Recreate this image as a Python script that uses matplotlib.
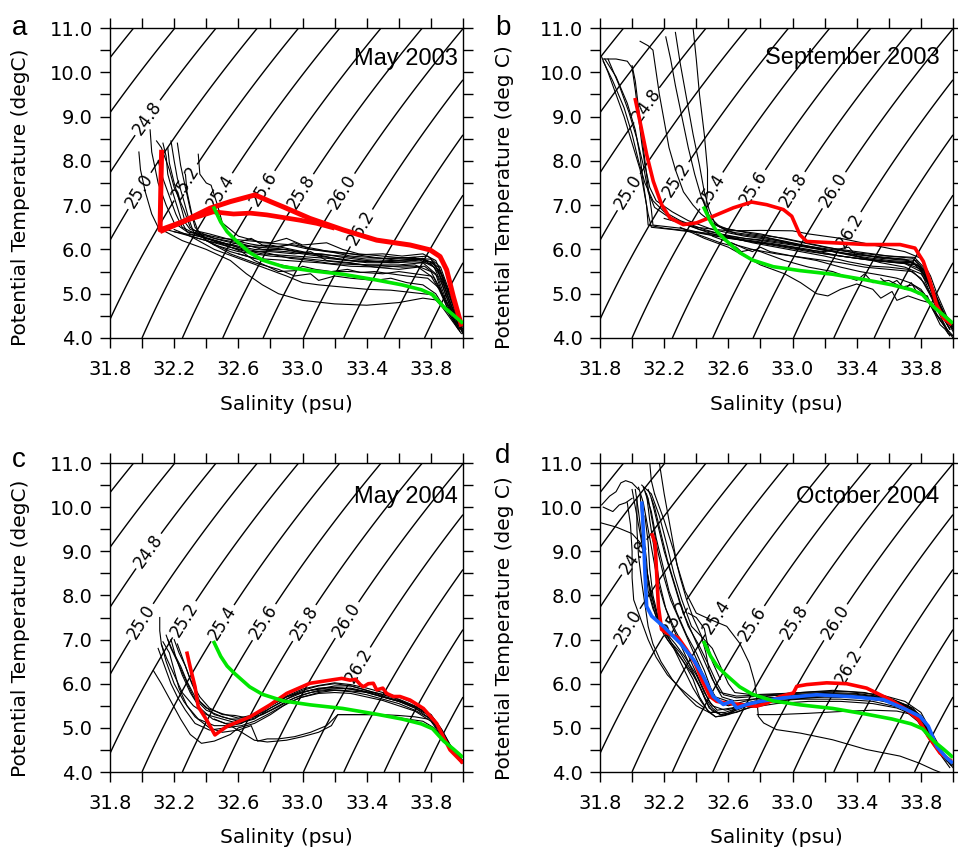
import numpy as np
import matplotlib
matplotlib.use("Agg")
import matplotlib.pyplot as plt
from matplotlib.ticker import FixedLocator, FormatStrFormatter

# ---------------- data (salinity, potential temperature) ----------------
green_ref = [(32.444, 6.97), (32.49, 6.62), (32.53, 6.40), (32.58, 6.22), (32.67, 5.93),
             (32.75, 5.76), (32.88, 5.61), (33.05, 5.52), (33.25, 5.44), (33.46, 5.31),
             (33.62, 5.20), (33.74, 5.09), (33.81, 4.98), (33.88, 4.70), (33.94, 4.52),
             (34.0, 4.33)]

may2003_red_upper = [(32.122, 8.25), (32.118, 7.6), (32.115, 7.0), (32.112, 6.44),
                     (32.25, 6.62), (32.423, 6.93), (32.55, 7.08), (32.704, 7.23),
                     (32.80, 7.08), (32.88, 6.96), (33.046, 6.70), (33.254, 6.44),
                     (33.462, 6.21), (33.67, 6.10), (33.794, 5.99), (33.857, 5.84),
                     (33.898, 5.54), (33.94, 4.93), (33.992, 4.26)]
may2003_red_lower = [(32.112, 6.40), (32.278, 6.66), (32.444, 6.85), (32.57, 6.80),
                     (32.673, 6.82), (32.777, 6.78), (32.88, 6.72), (32.984, 6.66),
                     (33.088, 6.59), (33.20, 6.48)]
may2003_ctd = [
    [(31.98, 8.2), (31.99, 7.8), (32.02, 7.3), (32.06, 6.8), (32.1, 6.5), (32.2, 6.4), (32.35, 6.3),
     (32.5, 6.15), (32.7, 6.0), (32.9, 5.95), (33.1, 5.85), (33.3, 5.75), (33.5, 5.72), (33.7, 5.75),
     (33.8, 5.72), (33.86, 5.5), (33.9, 5.1), (33.95, 4.6), (34.0, 4.15)],
    [(32.05, 8.7), (32.06, 8.2), (32.1, 7.5), (32.15, 7.0), (32.2, 6.6), (32.3, 6.35), (32.45, 6.2),
     (32.6, 6.05), (32.8, 6.1), (33.0, 5.95), (33.2, 5.8), (33.4, 5.7), (33.6, 5.7), (33.75, 5.8),
     (33.85, 5.6), (33.9, 5.0), (33.96, 4.4), (34.0, 4.1)],
    [(32.09, 8.45), (32.12, 8.3), (32.17, 7.8), (32.2, 7.4), (32.26, 6.9), (32.3, 6.5), (32.4, 6.25),
     (32.55, 6.05), (32.75, 5.9), (32.95, 5.85), (33.15, 5.8), (33.35, 5.72), (33.55, 5.75),
     (33.75, 5.78), (33.84, 5.55), (33.88, 5.2), (33.93, 4.7), (33.98, 4.25)],
    [(32.18, 8.45), (32.2, 8.0), (32.22, 7.6), (32.26, 7.1), (32.29, 6.7), (32.32, 6.4), (32.45, 6.1),
     (32.6, 5.95), (32.8, 5.85), (33.0, 5.8), (33.2, 5.72), (33.4, 5.65), (33.6, 5.65), (33.75, 5.7),
     (33.83, 5.45), (33.87, 5.0), (33.92, 4.5), (33.97, 4.2)],
    [(32.22, 8.4), (32.24, 7.9), (32.27, 7.4), (32.3, 6.9), (32.33, 6.5), (32.4, 6.2), (32.55, 5.95),
     (32.7, 5.8), (32.9, 5.75), (33.1, 5.7), (33.3, 5.62), (33.5, 5.6), (33.7, 5.65), (33.8, 5.5),
     (33.86, 5.1), (33.92, 4.6), (33.98, 4.15)],
    [(32.35, 8.15), (32.36, 7.7), (32.4, 7.5), (32.43, 7.45), (32.47, 7.0), (32.5, 6.6), (32.6, 6.3),
     (32.75, 6.15), (32.95, 6.1), (33.1, 6.0), (33.3, 5.85), (33.5, 5.8), (33.7, 5.82), (33.82, 5.6),
     (33.87, 5.2), (33.93, 4.6), (34.0, 4.2)],
    [(32.12, 6.45), (32.25, 6.2), (32.4, 6.0), (32.55, 5.75), (32.65, 5.45), (32.75, 5.2), (32.85, 5.0),
     (33.0, 4.85), (33.2, 4.77), (33.4, 4.74), (33.6, 4.8), (33.75, 4.9), (33.85, 4.85), (33.92, 4.55),
     (33.98, 4.2)],
    [(32.3, 6.3), (32.45, 6.0), (32.6, 5.8), (32.75, 5.6), (32.9, 5.4), (33.0, 5.25), (33.1, 5.2),
     (33.25, 5.15), (33.4, 5.1), (33.55, 5.08), (33.7, 5.02), (33.8, 4.98), (33.87, 4.7), (33.93, 4.4),
     (33.99, 4.1)],
    [(32.4, 6.2), (32.55, 5.9), (32.7, 5.7), (32.85, 5.55), (32.95, 5.4), (33.05, 5.45), (33.1, 5.3),
     (33.2, 5.4), (33.3, 5.35), (33.45, 5.3), (33.55, 5.35), (33.65, 5.25), (33.75, 5.2), (33.83, 5.0),
     (33.9, 4.6), (33.96, 4.3)],
    [(32.3, 6.4), (32.5, 6.25), (32.65, 6.2), (32.8, 6.15), (32.9, 6.25), (33.0, 6.1), (33.15, 6.15),
     (33.25, 6.0), (33.35, 5.9), (33.5, 5.85), (33.65, 5.8), (33.8, 5.78), (33.87, 5.4), (33.93, 4.8),
     (33.99, 4.3)],
    [(32.2, 6.4), (32.35, 6.25), (32.5, 6.1), (32.65, 5.95), (32.8, 5.95), (32.95, 5.9), (33.05, 5.95),
     (33.15, 5.75), (33.3, 5.7), (33.45, 5.6), (33.6, 5.55), (33.72, 5.6), (33.82, 5.35), (33.88, 4.9),
     (33.95, 4.5), (34.0, 4.3)],
    [(32.27, 7.7), (32.28, 7.3), (32.31, 6.8), (32.35, 6.4), (32.45, 6.25), (32.6, 6.15), (32.75, 6.0),
     (32.9, 6.0), (33.05, 5.9), (33.25, 5.85), (33.4, 5.78), (33.6, 5.8), (33.78, 5.85), (33.86, 5.6),
     (33.9, 5.2), (33.95, 4.7), (34.0, 4.25)],
    [(32.6, 5.9), (32.8, 5.7), (33.0, 5.55), (33.1, 5.5), (33.3, 5.5), (33.5, 5.45), (33.6, 5.5),
     (33.7, 5.45), (33.8, 5.4), (33.85, 5.1), (33.9, 4.7), (33.95, 4.45), (34.0, 4.1)],
    [(32.13, 8.4), (32.15, 8.1), (32.16, 7.7), (32.19, 7.3), (32.22, 6.95), (32.25, 6.6), (32.28, 6.4),
     (32.4, 6.3), (32.5, 6.2), (32.62, 6.1), (32.72, 6.05), (32.85, 6.02), (33.0, 5.92), (33.12, 5.9),
     (33.25, 5.82), (33.4, 5.75), (33.55, 5.7), (33.7, 5.72), (33.8, 5.68), (33.85, 5.45),
     (33.89, 5.0), (33.94, 4.55), (33.99, 4.2)],
    [(32.16, 8.3), (32.17, 7.95), (32.2, 7.5), (32.24, 7.0), (32.27, 6.6), (32.3, 6.45), (32.42, 6.35),
     (32.55, 6.22), (32.68, 6.12), (32.8, 6.05), (32.92, 6.1), (33.02, 6.02), (33.15, 5.95),
     (33.3, 5.9), (33.45, 5.82), (33.6, 5.75), (33.72, 5.8), (33.82, 5.7), (33.87, 5.3), (33.92, 4.8),
     (33.97, 4.4)],
    [(32.1, 8.0), (32.13, 7.6), (32.17, 7.2), (32.21, 6.8), (32.25, 6.5), (32.35, 6.32), (32.48, 6.18),
     (32.62, 6.02), (32.78, 5.92), (32.92, 5.8), (33.05, 5.75), (33.18, 5.68), (33.32, 5.66),
     (33.48, 5.64), (33.62, 5.6), (33.76, 5.62), (33.84, 5.4), (33.89, 4.9), (33.95, 4.4), (34.0, 4.15)],
    [(32.52, 6.1), (32.62, 5.95), (32.7, 5.75), (32.78, 5.62), (32.85, 5.5), (32.95, 5.52),
     (33.0, 5.62), (33.08, 5.55), (33.18, 5.5), (33.28, 5.55), (33.36, 5.48), (33.45, 5.5),
     (33.55, 5.45), (33.65, 5.4), (33.78, 5.35), (33.86, 5.1)],
    [(32.2, 6.45), (32.3, 6.3), (32.42, 6.18), (32.55, 6.1), (32.68, 6.25), (32.75, 6.1), (32.85, 6.05),
     (32.95, 6.15), (33.05, 6.0), (33.2, 5.95), (33.35, 5.88), (33.5, 5.9), (33.62, 5.85),
     (33.75, 5.9), (33.83, 5.75), (33.88, 5.35), (33.93, 4.85), (33.98, 4.35)],
]

sep2003_red = [(32.018, 9.42), (32.049, 8.89), (32.091, 8.14), (32.132, 7.54), (32.184, 7.01),
               (32.236, 6.71), (32.319, 6.56), (32.402, 6.60), (32.506, 6.75), (32.631, 6.94),
               (32.745, 7.07), (32.839, 7.01), (32.943, 6.90), (32.995, 6.75), (33.046, 6.33),
               (33.088, 6.18), (33.254, 6.15), (33.462, 6.11), (33.67, 6.11), (33.763, 6.03),
               (33.815, 5.73), (33.857, 5.28), (33.898, 4.75), (33.94, 4.45), (33.992, 4.30)]
sep2003_ctd = [
    [(31.81, 10.35), (31.85, 10.0), (31.9, 9.5), (31.95, 9.0), (32.0, 8.4), (32.05, 7.8), (32.08, 7.2),
     (32.1, 6.8), (32.12, 6.5), (32.25, 6.45), (32.4, 6.38), (32.6, 6.25), (32.8, 6.15), (33.0, 6.05),
     (33.2, 5.9), (33.4, 5.8), (33.6, 5.72), (33.75, 5.7), (33.83, 5.4), (33.88, 4.9), (33.93, 4.5),
     (33.99, 4.25)],
    [(31.82, 10.3), (31.9, 10.3), (31.97, 10.25), (32.0, 10.1), (32.02, 9.6), (32.04, 9.0), (32.06, 8.4),
     (32.08, 7.9), (32.11, 7.4), (32.15, 7.1), (32.25, 6.85), (32.35, 6.65), (32.5, 6.45), (32.7, 6.3),
     (32.9, 6.2), (33.1, 6.05), (33.3, 5.92), (33.5, 5.85), (33.7, 5.78), (33.8, 5.6), (33.86, 5.1),
     (33.92, 4.6), (34.0, 4.25)],
    [(31.82, 10.25), (31.88, 9.8), (31.95, 9.2), (32.0, 8.6), (32.04, 8.0), (32.08, 7.5), (32.13, 7.1),
     (32.2, 6.85), (32.3, 6.65), (32.45, 6.45), (32.6, 6.3), (32.8, 6.2), (33.0, 6.1), (33.2, 5.98),
     (33.4, 5.88), (33.6, 5.8), (33.77, 5.75), (33.84, 5.45), (33.9, 4.9), (33.96, 4.45), (34.0, 4.3)],
    [(31.83, 10.3), (31.9, 9.9), (31.97, 9.3), (32.02, 8.7), (32.05, 8.1), (32.07, 7.5), (32.09, 7.0),
     (32.1, 6.55), (32.2, 6.48), (32.35, 6.42), (32.5, 6.35), (32.7, 6.22), (32.9, 6.12), (33.1, 6.0),
     (33.3, 5.85), (33.5, 5.75), (33.7, 5.68), (33.8, 5.5), (33.86, 5.0), (33.93, 4.55), (34.0, 4.2)],
    [(32.05, 10.7), (32.1, 10.6), (32.13, 10.5), (32.15, 10.0), (32.17, 9.5), (32.2, 8.9), (32.23, 8.3),
     (32.27, 7.8), (32.32, 7.3), (32.38, 7.0), (32.43, 6.8), (32.5, 6.6), (32.6, 6.45), (32.8, 6.35),
     (33.0, 6.2), (33.2, 6.05), (33.4, 5.95), (33.6, 5.85), (33.75, 5.8), (33.82, 5.5), (33.88, 5.0),
     (33.95, 4.5), (34.0, 4.3)],
    [(32.21, 10.8), (32.24, 10.3), (32.27, 9.7), (32.31, 9.0), (32.35, 8.3), (32.39, 7.7), (32.43, 7.2),
     (32.47, 6.85), (32.5, 6.6), (32.6, 6.4), (32.8, 6.3), (33.0, 6.15), (33.2, 6.0), (33.4, 5.85),
     (33.6, 5.75), (33.75, 5.72), (33.82, 5.5), (33.87, 5.0), (33.92, 4.6), (33.98, 4.2)],
    [(32.27, 10.9), (32.3, 10.2), (32.34, 9.4), (32.38, 8.6), (32.42, 7.9), (32.45, 7.3), (32.48, 6.9),
     (32.52, 6.55), (32.65, 6.35), (32.85, 6.25), (33.05, 6.1), (33.25, 5.95), (33.45, 5.8),
     (33.65, 5.7), (33.78, 5.65), (33.84, 5.3), (33.9, 4.8), (33.96, 4.4), (34.0, 4.15)],
    [(32.38, 11.0), (32.4, 10.3), (32.42, 9.5), (32.45, 8.6), (32.47, 7.8), (32.47, 7.3), (32.46, 7.0),
     (32.48, 6.75), (32.55, 6.5), (32.75, 6.35), (32.95, 6.25), (33.15, 6.1), (33.35, 5.95),
     (33.55, 5.8), (33.72, 5.75), (33.82, 5.55), (33.87, 5.1), (33.93, 4.65), (33.99, 4.25)],
    [(32.2, 6.7), (32.4, 6.5), (32.6, 6.42), (32.8, 6.43), (33.0, 6.42), (33.1, 6.35), (33.3, 6.25),
     (33.5, 6.1), (33.7, 5.95), (33.8, 5.8), (33.86, 5.4), (33.9, 5.0), (33.96, 4.5), (34.0, 4.3)],
    [(32.3, 6.5), (32.45, 6.25), (32.6, 6.05), (32.7, 5.85), (32.8, 5.65), (32.95, 5.45), (33.05, 5.25),
     (33.15, 5.0), (33.22, 4.95), (33.3, 5.1), (33.4, 5.22), (33.5, 5.1), (33.55, 4.9), (33.62, 5.05),
     (33.65, 4.85), (33.72, 4.95), (33.8, 4.85), (33.85, 4.8), (33.9, 4.5), (33.95, 4.25), (34.0, 4.05)],
    [(32.5, 6.3), (32.65, 6.1), (32.8, 5.95), (32.95, 5.75), (33.1, 5.6), (33.25, 5.5), (33.4, 5.3),
     (33.45, 5.45), (33.5, 5.25), (33.6, 5.3), (33.68, 5.15), (33.75, 5.2), (33.82, 5.0), (33.88, 4.6),
     (33.93, 4.4), (33.97, 4.1), (34.0, 4.05)],
    [(32.4, 6.35), (32.55, 6.15), (32.65, 6.05), (32.68, 5.95), (32.75, 6.0), (32.9, 5.9), (33.1, 5.8),
     (33.3, 5.7), (33.45, 5.6), (33.6, 5.55), (33.75, 5.5), (33.82, 5.25), (33.88, 4.85), (33.93, 4.5),
     (33.98, 4.2)],
    [(32.3, 6.6), (32.5, 6.35), (32.7, 6.2), (32.9, 6.1), (33.05, 6.0), (33.2, 5.95), (33.35, 6.05),
     (33.4, 5.85), (33.55, 5.7), (33.7, 5.6), (33.8, 5.45), (33.86, 5.15), (33.9, 4.8), (33.95, 4.5),
     (34.0, 4.2)],
    [(32.0, 10.15), (32.02, 9.8), (32.04, 9.2), (32.06, 8.6), (32.08, 8.0), (32.1, 7.4), (32.12, 6.9),
     (32.13, 6.55), (32.3, 6.48), (32.5, 6.32), (32.7, 6.2), (32.9, 6.08), (33.1, 5.95), (33.3, 5.85),
     (33.5, 5.75), (33.7, 5.7), (33.8, 5.55), (33.86, 5.1), (33.92, 4.6), (33.98, 4.2)],
    [(31.85, 10.3), (31.92, 9.7), (31.98, 9.1), (32.03, 8.5), (32.07, 7.9), (32.1, 7.3), (32.14, 6.95),
     (32.22, 6.75), (32.32, 6.6), (32.42, 6.45), (32.55, 6.35), (32.7, 6.25), (32.85, 6.2), (33.0, 6.12),
     (33.2, 6.02), (33.4, 5.92), (33.6, 5.85), (33.76, 5.82), (33.83, 5.55), (33.89, 5.0), (33.95, 4.5),
     (34.0, 4.25)],
    [(32.6, 6.28), (32.75, 6.15), (32.9, 6.05), (33.05, 5.95), (33.2, 5.85), (33.35, 5.72), (33.5, 5.62),
     (33.6, 5.6), (33.72, 5.55), (33.8, 5.35), (33.86, 4.95), (33.92, 4.5), (33.97, 4.15)],
    [(32.62, 6.15), (32.7, 6.02), (32.75, 5.95), (32.8, 6.05), (32.86, 5.95), (33.0, 5.85), (33.15, 5.75),
     (33.3, 5.6), (33.42, 5.5), (33.55, 5.42), (33.65, 5.35), (33.73, 5.25), (33.8, 5.1), (33.86, 4.8),
     (33.92, 4.4), (33.96, 4.2), (34.0, 4.0)],
    [(33.55, 5.35), (33.6, 5.2), (33.65, 5.3), (33.7, 5.1), (33.74, 5.25), (33.78, 5.0), (33.84, 4.95),
     (33.88, 4.6), (33.92, 4.3), (33.95, 4.2), (33.98, 4.05)],
]

may2004_red = [(32.278, 6.73), (32.299, 6.39), (32.33, 5.93), (32.35, 5.48), (32.402, 5.18),
               (32.454, 4.84), (32.527, 5.03), (32.673, 5.25), (32.797, 5.52), (32.901, 5.78),
               (33.046, 6.01), (33.171, 6.08), (33.244, 6.12), (33.296, 6.08), (33.33, 6.10),
               (33.36, 5.98), (33.379, 5.93), (33.41, 6.0), (33.441, 6.01), (33.462, 5.86),
               (33.50, 5.90), (33.524, 5.78), (33.566, 5.71), (33.607, 5.71), (33.67, 5.63),
               (33.753, 5.44), (33.836, 5.10), (33.877, 4.80), (33.919, 4.50), (34.0, 4.20)]
may2004_ctd = [
    [(32.11, 7.5), (32.11, 7.2), (32.12, 6.9), (32.15, 6.6), (32.2, 6.2), (32.25, 5.8), (32.32, 5.5),
     (32.4, 5.3), (32.5, 5.2), (32.6, 5.1), (32.7, 5.2), (32.8, 5.45), (32.9, 5.65), (33.0, 5.8),
     (33.1, 5.9), (33.2, 5.92), (33.3, 5.88), (33.4, 5.8), (33.5, 5.7), (33.6, 5.6), (33.7, 5.45),
     (33.78, 5.3), (33.85, 5.0), (33.9, 4.7), (33.95, 4.45), (34.0, 4.25)],
    [(32.15, 7.1), (32.18, 6.8), (32.22, 6.5), (32.27, 6.1), (32.32, 5.7), (32.4, 5.4), (32.5, 5.25),
     (32.6, 5.15), (32.7, 5.25), (32.8, 5.5), (32.9, 5.7), (33.0, 5.85), (33.1, 5.95), (33.2, 6.0),
     (33.3, 5.95), (33.4, 5.85), (33.5, 5.75), (33.6, 5.65), (33.7, 5.5), (33.8, 5.25), (33.87, 4.9),
     (33.93, 4.55), (34.0, 4.25)],
    [(32.2, 7.0), (32.23, 6.7), (32.27, 6.4), (32.31, 6.0), (32.36, 5.6), (32.45, 5.3), (32.55, 5.2),
     (32.65, 5.2), (32.75, 5.35), (32.85, 5.55), (32.95, 5.75), (33.05, 5.85), (33.15, 5.9),
     (33.25, 5.9), (33.35, 5.85), (33.45, 5.75), (33.55, 5.65), (33.65, 5.55), (33.75, 5.4),
     (33.82, 5.15), (33.88, 4.8), (33.94, 4.5), (34.0, 4.2)],
    [(32.07, 6.3), (32.12, 6.0), (32.18, 5.6), (32.24, 5.2), (32.3, 4.85), (32.37, 4.65), (32.45, 4.7),
     (32.55, 4.85), (32.6, 5.0), (32.7, 5.1), (32.8, 5.3), (32.9, 5.55), (33.0, 5.7), (33.1, 5.8),
     (33.2, 5.85), (33.3, 5.82), (33.4, 5.75), (33.5, 5.65), (33.6, 5.55), (33.7, 5.4), (33.8, 5.2),
     (33.87, 4.85), (33.93, 4.5), (33.99, 4.2)],
    [(32.12, 6.9), (32.15, 6.5), (32.2, 6.0), (32.26, 5.6), (32.33, 5.25), (32.42, 5.0), (32.5, 4.9),
     (32.6, 4.95), (32.68, 5.05), (32.72, 4.7), (32.78, 4.75), (32.85, 4.75), (32.95, 4.8),
     (33.05, 4.9), (33.15, 5.05), (33.22, 5.3), (33.3, 5.3), (33.45, 5.3), (33.55, 5.25),
     (33.65, 5.2), (33.75, 5.15), (33.82, 5.0), (33.88, 4.75)],
    [(32.13, 6.95), (32.17, 6.7), (32.2, 6.3), (32.23, 5.9), (32.28, 5.5), (32.35, 5.2), (32.45, 5.05),
     (32.55, 5.05), (32.62, 5.1), (32.7, 5.3), (32.8, 5.5), (32.9, 5.7), (33.0, 5.82), (33.1, 5.88),
     (33.2, 5.95), (33.3, 5.95), (33.4, 5.85), (33.5, 5.72), (33.6, 5.62), (33.7, 5.48), (33.8, 5.3),
     (33.86, 5.0), (33.92, 4.6), (33.98, 4.25)],
    [(32.45, 5.2), (32.55, 5.05), (32.62, 4.9), (32.7, 4.72), (32.78, 4.68), (32.9, 4.72), (33.0, 4.8),
     (33.1, 4.9), (33.18, 5.05), (33.22, 5.3), (33.35, 5.3), (33.5, 5.3), (33.6, 5.28), (33.7, 5.25),
     (33.78, 5.2)],
    [(32.18, 7.0), (32.21, 6.6), (32.25, 6.2), (32.3, 5.8), (32.36, 5.45), (32.44, 5.2), (32.52, 5.1),
     (32.6, 5.12), (32.7, 5.22), (32.8, 5.4), (32.9, 5.6), (33.0, 5.75), (33.1, 5.85), (33.2, 5.88),
     (33.3, 5.9), (33.4, 5.82), (33.5, 5.7), (33.6, 5.6), (33.7, 5.45), (33.78, 5.25), (33.85, 4.95),
     (33.92, 4.55), (33.99, 4.2)],
    [(32.16, 7.0), (32.19, 6.75), (32.24, 6.4), (32.28, 6.05), (32.33, 5.7), (32.4, 5.45), (32.5, 5.32),
     (32.6, 5.22), (32.7, 5.3), (32.8, 5.52), (32.9, 5.72), (33.0, 5.88), (33.1, 5.96), (33.2, 6.02),
     (33.3, 5.98), (33.4, 5.9), (33.5, 5.8), (33.6, 5.7), (33.7, 5.55), (33.8, 5.3), (33.87, 4.95),
     (33.93, 4.55), (34.0, 4.22)],
    [(32.1, 6.8), (32.14, 6.4), (32.18, 6.0), (32.22, 5.7), (32.27, 5.4), (32.33, 5.1), (32.42, 4.95),
     (32.52, 5.0), (32.62, 5.05), (32.7, 5.15), (32.78, 5.3), (32.88, 5.5), (32.98, 5.68), (33.1, 5.78),
     (33.2, 5.8), (33.3, 5.78), (33.4, 5.7), (33.5, 5.62), (33.6, 5.5), (33.7, 5.38), (33.8, 5.15),
     (33.87, 4.8), (33.95, 4.4)],
    [(32.22, 6.9), (32.26, 6.5), (32.3, 6.1), (32.36, 5.7), (32.42, 5.45), (32.5, 5.3), (32.58, 5.28),
     (32.66, 5.22), (32.75, 5.3), (32.85, 5.48), (32.95, 5.68), (33.05, 5.8), (33.15, 5.85),
     (33.25, 5.85), (33.35, 5.82), (33.45, 5.8), (33.55, 5.72), (33.62, 5.6), (33.72, 5.45),
     (33.8, 5.28)],
]

oct2004_red = [(32.122, 9.41), (32.143, 9.19), (32.153, 8.51), (32.164, 7.75), (32.184, 7.23),
               (32.215, 7.15), (32.288, 7.04), (32.34, 6.77), (32.392, 6.47), (32.434, 6.09),
               (32.486, 5.71), (32.527, 5.60), (32.589, 5.56), (32.673, 5.53), (32.776, 5.49),
               (32.839, 5.56), (32.922, 5.71), (33.005, 5.79), (33.026, 5.94), (33.088, 5.98),
               (33.213, 6.02), (33.337, 6.0), (33.462, 5.90), (33.607, 5.64), (33.711, 5.41),
               (33.784, 5.19), (33.846, 4.81), (33.919, 4.43), (33.992, 4.24)]
oct2004_blue = [(32.06, 10.13), (32.07, 9.49), (32.08, 8.51), (32.091, 7.75), (32.122, 7.53),
                (32.195, 7.30), (32.299, 6.92), (32.382, 6.55), (32.444, 6.17), (32.506, 5.71),
                (32.569, 5.53), (32.62, 5.60), (32.652, 5.45), (32.714, 5.53), (32.797, 5.60),
                (32.943, 5.68), (33.15, 5.75), (33.358, 5.71), (33.566, 5.64), (33.711, 5.41),
                (33.794, 5.26), (33.846, 5.04), (33.898, 4.58), (33.96, 4.32), (33.998, 4.20)]
oct2004_ctd = [
    [(32.0, 10.4), (32.02, 10.0), (32.05, 9.4), (32.08, 8.8), (32.11, 8.2), (32.15, 7.6), (32.2, 7.2),
     (32.27, 6.9), (32.33, 6.6), (32.4, 6.2), (32.45, 5.8), (32.5, 5.5), (32.58, 5.4), (32.7, 5.5),
     (32.9, 5.65), (33.1, 5.72), (33.3, 5.72), (33.5, 5.65), (33.7, 5.5), (33.8, 5.2), (33.86, 4.8),
     (33.92, 4.45), (33.98, 4.2)],
    [(32.07, 10.45), (32.1, 10.2), (32.13, 9.6), (32.16, 9.0), (32.2, 8.4), (32.24, 7.9), (32.3, 7.4),
     (32.36, 6.9), (32.42, 6.4), (32.47, 6.0), (32.52, 5.7), (32.6, 5.6), (32.75, 5.65), (32.95, 5.7),
     (33.15, 5.78), (33.35, 5.75), (33.55, 5.68), (33.72, 5.5), (33.8, 5.25), (33.87, 4.8),
     (33.93, 4.45), (34.0, 4.2)],
    [(32.05, 10.3), (32.06, 9.8), (32.07, 9.2), (32.09, 8.6), (32.12, 8.0), (32.16, 7.5), (32.22, 7.0),
     (32.3, 6.6), (32.38, 6.2), (32.44, 5.8), (32.48, 5.45), (32.55, 5.3), (32.65, 5.35), (32.8, 5.55),
     (33.0, 5.65), (33.2, 5.7), (33.4, 5.68), (33.6, 5.6), (33.75, 5.4), (33.83, 5.05), (33.9, 4.6),
     (33.96, 4.3)],
    [(32.1, 10.4), (32.14, 10.0), (32.18, 9.4), (32.22, 8.8), (32.27, 8.2), (32.32, 7.6), (32.38, 7.1),
     (32.44, 6.6), (32.5, 6.1), (32.55, 5.8), (32.65, 5.72), (32.85, 5.75), (33.05, 5.8), (33.25, 5.85),
     (33.45, 5.8), (33.62, 5.65), (33.75, 5.45), (33.82, 5.15), (33.88, 4.75), (33.94, 4.4),
     (34.0, 4.15)],
    [(32.03, 10.2), (32.03, 9.5), (32.04, 8.9), (32.06, 8.3), (32.08, 7.8), (32.1, 7.3), (32.13, 6.9),
     (32.18, 6.5), (32.25, 6.1), (32.33, 5.75), (32.4, 5.5), (32.48, 5.35), (32.58, 5.35), (32.7, 5.5),
     (32.85, 5.6), (33.05, 5.65), (33.3, 5.65), (33.5, 5.6), (33.68, 5.45), (33.78, 5.15),
     (33.85, 4.75), (33.92, 4.4), (33.98, 4.1)],
    [(31.97, 10.1), (31.99, 9.6), (32.0, 9.0), (32.0, 8.4), (32.01, 7.9), (32.05, 7.5), (32.1, 7.0),
     (32.15, 6.6), (32.22, 6.2), (32.3, 5.9), (32.38, 5.65), (32.45, 5.45)],
    [(31.8, 9.65), (31.9, 9.55), (32.0, 9.4), (32.05, 9.2), (32.08, 8.9)],
    [(31.81, 10.05), (31.86, 10.25), (31.9, 10.35), (31.93, 10.55), (31.96, 10.6), (32.0, 10.55),
     (32.04, 10.4)],
    [(31.82, 10.0), (31.88, 9.9), (31.92, 10.05), (31.96, 10.1), (32.0, 10.2)],
    [(32.17, 11.0), (32.2, 10.3), (32.24, 9.5), (32.28, 8.7), (32.33, 8.1), (32.4, 7.6), (32.49, 7.45),
     (32.59, 7.3), (32.67, 6.92), (32.73, 6.47), (32.765, 6.02), (32.776, 5.71), (32.787, 5.26),
     (32.82, 5.11), (32.9, 4.96), (33.05, 4.88), (33.25, 4.73), (33.46, 4.51), (33.67, 4.36),
     (33.79, 4.2), (33.88, 4.05), (33.95, 3.95)],
    [(32.78, 5.3), (32.9, 5.3), (33.1, 5.33), (33.3, 5.37), (33.5, 5.4), (33.65, 5.38), (33.75, 5.3)],
    [(32.11, 11.0), (32.12, 10.6), (32.14, 10.3)],
    [(32.06, 10.5), (32.12, 10.3), (32.17, 9.8), (32.22, 9.1), (32.26, 8.5), (32.31, 7.9), (32.37, 7.3),
     (32.45, 7.0), (32.5, 6.8), (32.55, 6.4), (32.6, 6.0), (32.64, 5.8), (32.75, 5.75), (32.95, 5.78),
     (33.15, 5.82), (33.35, 5.82), (33.55, 5.75), (33.7, 5.6), (33.8, 5.35), (33.86, 4.95),
     (33.92, 4.55), (33.98, 4.2)],
    [(32.08, 9.8), (32.1, 9.2), (32.11, 8.6), (32.13, 8.0), (32.17, 7.4), (32.25, 6.9), (32.32, 6.5),
     (32.38, 6.1), (32.42, 5.7), (32.47, 5.4), (32.52, 5.25), (32.6, 5.3), (32.72, 5.45), (32.9, 5.55),
     (33.1, 5.6), (33.3, 5.6), (33.5, 5.55), (33.65, 5.45), (33.75, 5.3), (33.82, 5.0), (33.88, 4.75),
     (33.95, 4.3), (34.0, 4.1)],
    [(32.35, 7.6), (32.4, 7.5), (32.45, 7.25), (32.47, 6.9), (32.5, 6.5), (32.55, 6.1)],
    [(32.09, 10.3), (32.11, 9.7), (32.14, 9.0), (32.17, 8.3), (32.21, 7.7), (32.27, 7.2), (32.33, 6.8),
     (32.38, 6.4), (32.43, 6.0), (32.48, 5.6), (32.53, 5.4), (32.62, 5.45), (32.8, 5.62), (33.0, 5.7),
     (33.2, 5.75), (33.4, 5.72), (33.6, 5.62), (33.74, 5.42), (33.82, 5.1), (33.89, 4.65),
     (33.96, 4.25)],
    [(32.04, 10.45), (32.07, 10.1), (32.1, 9.5), (32.13, 8.9), (32.16, 8.3), (32.2, 7.8), (32.25, 7.3),
     (32.3, 6.9), (32.35, 6.5), (32.4, 6.1), (32.45, 5.7), (32.5, 5.45), (32.55, 5.3), (32.62, 5.35),
     (32.7, 5.55), (32.85, 5.68), (33.05, 5.72), (33.25, 5.75), (33.45, 5.72), (33.62, 5.6),
     (33.74, 5.4), (33.82, 5.1), (33.88, 4.7), (33.95, 4.3)],
    [(32.08, 10.35), (32.12, 9.9), (32.15, 9.3), (32.19, 8.7), (32.23, 8.1), (32.28, 7.6), (32.34, 7.1),
     (32.4, 6.7), (32.45, 6.3), (32.49, 5.9), (32.53, 5.6), (32.6, 5.5), (32.7, 5.6), (32.85, 5.72),
     (33.0, 5.78), (33.2, 5.8), (33.4, 5.78), (33.6, 5.68), (33.72, 5.5), (33.8, 5.28), (33.86, 4.9),
     (33.93, 4.45), (33.99, 4.15)],
    [(32.02, 10.4), (32.04, 9.9), (32.06, 9.3), (32.08, 8.7), (32.1, 8.1), (32.13, 7.7), (32.18, 7.3),
     (32.24, 6.95), (32.3, 6.7), (32.36, 6.35), (32.42, 5.95), (32.46, 5.6), (32.5, 5.38), (32.57, 5.28),
     (32.65, 5.4), (32.78, 5.58), (32.95, 5.66), (33.15, 5.7), (33.35, 5.7), (33.55, 5.64), (33.7, 5.48),
     (33.79, 5.2), (33.86, 4.8), (33.93, 4.4), (33.99, 4.15)],
    [(32.12, 10.2), (32.16, 9.6), (32.2, 9.0), (32.25, 8.4), (32.3, 7.8), (32.35, 7.3), (32.42, 6.85),
     (32.48, 6.4), (32.53, 6.0), (32.57, 5.75), (32.65, 5.68), (32.8, 5.72), (33.0, 5.75), (33.2, 5.78),
     (33.4, 5.76), (33.58, 5.68), (33.72, 5.48), (33.8, 5.2), (33.86, 4.85)],
    [(32.06, 10.0), (32.07, 9.4), (32.09, 8.8), (32.1, 8.3), (32.12, 7.9), (32.15, 7.5), (32.2, 7.1),
     (32.26, 6.8), (32.3, 6.5), (32.34, 6.2), (32.38, 5.9), (32.43, 5.6), (32.48, 5.35), (32.52, 5.25),
     (32.58, 5.28), (32.65, 5.45), (32.75, 5.55)],
    [(32.14, 10.3), (32.2, 9.7), (32.26, 9.0), (32.3, 8.4), (32.34, 7.9), (32.38, 7.5), (32.43, 7.1),
     (32.46, 6.7), (32.48, 6.3), (32.52, 5.95), (32.56, 5.7), (32.63, 5.62)],
]

titles = ["May 2003", "September 2003", "May 2004", "October 2004"]
letters = ["a", "b", "c", "d"]
ylabels = ["Potential Temperature (degC)", "Potential Temperature (deg C)",
           "Potential Temperature (degC)", "Potential Temperature (deg C)"]
xlabel = "Salinity (psu)"
xticks_major = [31.8, 32.2, 32.6, 33.0, 33.4, 33.8]
xticks_minor = [32.0, 32.4, 32.8, 33.2, 33.6, 34.0]
yticks_major = [4.0, 5.0, 6.0, 7.0, 8.0, 9.0, 10.0, 11.0]
yticks_minor = [4.5, 5.5, 6.5, 7.5, 8.5, 9.5, 10.5]
sigma_levels = np.round(np.arange(24.4, 27.05, 0.2), 1)

label_pos = [
    [(32.04, 8.96), (31.976, 7.34), (32.247, 7.57), (32.496, 7.30), (32.766, 7.34),
     (33.005, 7.27), (33.254, 7.30), (33.369, 6.48)],
    [(32.09, 9.26), (31.977, 7.30), (32.278, 7.57), (32.507, 7.30), (32.745, 7.42),
     (33.006, 7.34), (33.256, 7.34), (33.351, 6.44)],
    [(32.05, 8.98), (32.006, 7.38), (32.249, 7.49), (32.498, 7.38), (32.766, 7.38),
     (33.03, 7.33), (33.277, 7.44), (33.346, 6.42)],
    [(31.977, 8.96), (31.977, 7.29), (32.27, 7.5), (32.528, 7.52), (32.745, 7.37),
     (33.015, 7.40), (33.264, 7.40), (33.337, 6.42)],
]


def sigma_theta(S, T):
    rw = (999.842594 + 6.793952e-2 * T - 9.095290e-3 * T**2 + 1.001685e-4 * T**3
          - 1.120083e-6 * T**4 + 6.536332e-9 * T**5)
    A = (8.24493e-1 - 4.0899e-3 * T + 7.6438e-5 * T**2 - 8.2467e-7 * T**3 + 5.3875e-9 * T**4)
    B = -5.72466e-3 + 1.0227e-4 * T - 1.6546e-6 * T**2
    C = 4.8314e-4
    return rw + A * S + B * S**1.5 + C * S**2 - 1000.0


W, H = 958, 849
fig = plt.figure(figsize=(W / 100, H / 100), dpi=100)
fig.patch.set_facecolor("white")

boxes = [(110, 28, 338), (600, 28, 338), (110, 463, 772), (600, 463, 772)]
title_xy = [(0.986, 0.881), (0.963, 0.884), (0.986, 0.871), (0.961, 0.871)]
letter_xy = [(12, 35), (495, 35), (12, 467), (495, 463)]
ylab_xy = [(21, 197), (505, 197), (21, 628), (505, 628)]
xlab_xy = [(286.5, 410), (776.5, 410), (286.5, 843), (776.5, 843)]

Sg, Tg = np.meshgrid(np.linspace(31.8, 34.0, 300), np.linspace(4.0, 11.0, 300))
SIG = sigma_theta(Sg, Tg)

panels = [
    (may2003_ctd, [(may2003_red_upper, "#ff0000", 3.6), (may2003_red_lower, "#ff0000", 3.4)]),
    (sep2003_ctd, [(sep2003_red, "#ff0000", 2.6)]),
    (may2004_ctd, [(may2004_red, "#ff0000", 2.6)]),
    (oct2004_ctd, [(oct2004_red, "#ff0000", 2.6), (oct2004_blue, "#1560ff", 2.6)]),
]

for i, (l, t, b) in enumerate(boxes):
    ax = fig.add_axes([l / W, 1 - b / H, 353 / W, (b - t) / H])
    ax.set_xlim(31.8, 34.0)
    ax.set_ylim(4.0, 11.0)

    cs = ax.contour(Sg, Tg, SIG, levels=sigma_levels, colors="k", linewidths=1.0, zorder=1)
    txts = ax.clabel(cs, manual=label_pos[i], inline=True, fmt="%.1f",
                     fontsize=12, inline_spacing=3)
    for tx in txts:
        tx.set_zorder(2)

    ctd, colored = panels[i]
    for prof in ctd:
        s = [p[0] for p in prof]
        tt = [p[1] for p in prof]
        ax.plot(s, tt, color="black", lw=0.8, zorder=3, clip_on=True)
    for j, (prof, col, lw) in enumerate(colored):
        ax.plot([p[0] for p in prof], [p[1] for p in prof], color=col, lw=lw,
                zorder=4 + j, solid_capstyle="butt", solid_joinstyle="round")
    ax.plot([p[0] for p in green_ref], [p[1] for p in green_ref], color="#00e600", lw=2.6,
            zorder=7, solid_capstyle="butt")

    ax.xaxis.set_major_locator(FixedLocator(xticks_major))
    ax.xaxis.set_minor_locator(FixedLocator(xticks_minor))
    ax.yaxis.set_major_locator(FixedLocator(yticks_major))
    ax.yaxis.set_minor_locator(FixedLocator(yticks_minor))
    ax.xaxis.set_major_formatter(FormatStrFormatter("%.1f"))
    ax.yaxis.set_major_formatter(FormatStrFormatter("%.1f"))
    ax.tick_params(which="both", direction="out", length=7.5, width=1.0, top=True, right=True,
                   colors="black")
    ax.tick_params(axis="x", which="major", labelsize=14, pad=8)
    ax.tick_params(axis="y", which="major", labelsize=14, pad=5)
    for sp in ax.spines.values():
        sp.set_linewidth(1.0)

    ax.text(title_xy[i][0], title_xy[i][1], titles[i], transform=ax.transAxes, ha="right",
            va="baseline", fontsize=17, family="Liberation Sans", zorder=8)

    fig.text(letter_xy[i][0] / W, 1 - letter_xy[i][1] / H, letters[i], ha="left", va="baseline",
             fontsize=20, family="Liberation Sans")
    fig.text(ylab_xy[i][0] / W, 1 - ylab_xy[i][1] / H, ylabels[i], rotation=90, ha="center",
             va="center", fontsize=14.5)
    fig.text(xlab_xy[i][0] / W, 1 - xlab_xy[i][1] / H, xlabel, ha="center", va="baseline",
             fontsize=14.5)

fig.savefig("out.png", dpi=100, facecolor="white")
